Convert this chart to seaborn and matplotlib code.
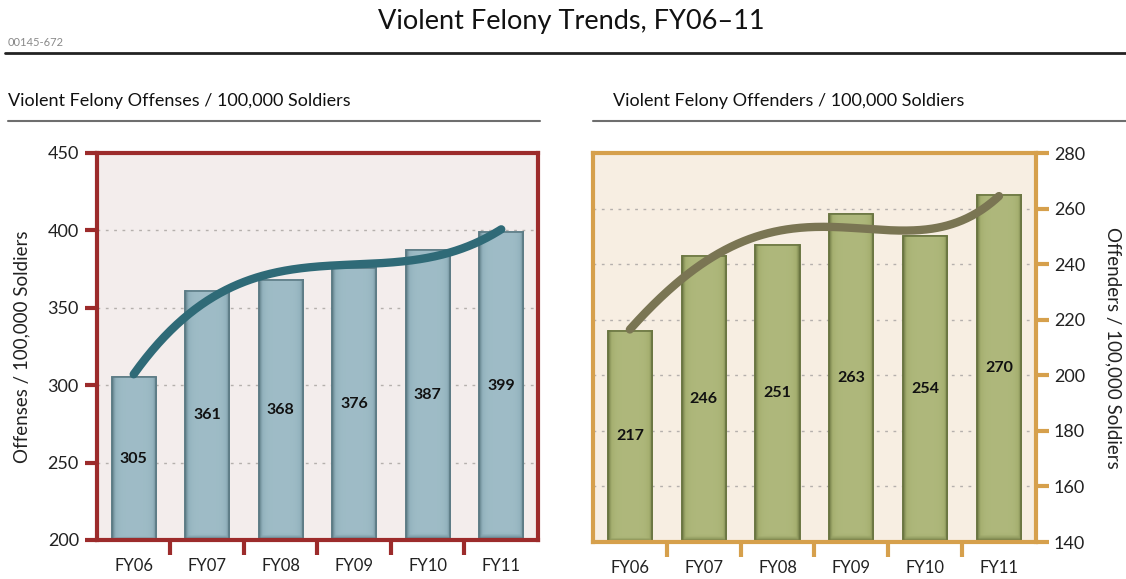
import numpy as np
import matplotlib
matplotlib.use("Agg")
import matplotlib.pyplot as plt
import seaborn as sns
from matplotlib.lines import Line2D
from matplotlib.colors import LinearSegmentedColormap

# ---------------- data ----------------
years = ["FY06", "FY07", "FY08", "FY09", "FY10", "FY11"]
offenses = [305, 361, 368, 376, 387, 399]
offense_labels = ["305", "361", "368", "376", "387", "399"]
# bar heights as drawn in the reference (right panel)
offenders = [216, 243, 247, 258, 250, 265]
offender_labels = ["217", "246", "251", "263", "254", "270"]

left_yticks = [200, 250, 300, 350, 400, 450]
right_yticks = [140, 160, 180, 200, 220, 240, 260, 280]

sns.set_theme(style="white")
plt.rcParams['font.family'] = ['Lato', 'DejaVu Sans']

fig = plt.figure(figsize=(11.26, 5.79), dpi=100)
fig.patch.set_facecolor("white")
ax1 = fig.add_axes([0.0861, 0.0674, 0.3917, 0.6684])
ax2 = fig.add_axes([0.5266, 0.0639, 0.3934, 0.6718])


def panel(ax, values, labels, yticks, bar_color, edge_color, light_color, frame,
          bg, curve_color, order, right=False, ylabel=""):
    ymin, ymax = yticks[0], yticks[-1]
    ax.set_facecolor(bg)
    sns.barplot(x=years, y=values, ax=ax, color=bar_color, width=0.6,
                saturation=1, edgecolor=edge_color, linewidth=1.2, zorder=3)
    cmap = LinearSegmentedColormap.from_list("g", [edge_color, bar_color, light_color])
    tx = np.linspace(0, 1, 80)
    prof = 1 - np.abs(2 * tx - 1) ** 5
    for p in list(ax.patches):
        x0, w, h = p.get_x(), p.get_width(), p.get_height()
        ty = np.linspace(0, 1, 120)[:, None]
        top = np.clip((1 - ty) / 0.02, 0, 1)
        grad = np.minimum(prof[None, :], top) * 0.85
        ax.imshow(grad, extent=[x0, x0 + w, ymin, h], aspect="auto", cmap=cmap,
                  vmin=0, vmax=1, zorder=3.1, origin="upper", interpolation="bilinear")
        ax.add_patch(plt.Rectangle((x0, ymin), w, h - ymin, fill=False,
                                   edgecolor=edge_color, lw=1.2, zorder=3.2))
    xi = np.arange(len(values))
    coef = np.polyfit(xi, values, order)
    xs = np.linspace(0, len(values) - 1, 300)
    ax.plot(xs, np.polyval(coef, xs), color=curve_color, lw=6,
            solid_capstyle="round", zorder=4)
    for i, (v, lab) in enumerate(zip(values, labels)):
        ax.text(i, ymin + (v - ymin) / 2, lab, ha="center", va="center",
                fontsize=11.5, fontweight="bold", color="#111111", zorder=5)
    ax.set_xlim(-0.5, len(values) - 0.5)
    ax.set_ylim(ymin, ymax)
    ax.set_yticks(yticks)
    for yt in yticks[1:-1]:
        ax.axhline(yt, color="#b5b0ad", lw=1, ls=(0, (2, 4)), zorder=1)
    for s in ax.spines.values():
        s.set_visible(True)
        s.set_color(frame)
        s.set_linewidth(3)
        s.set_zorder(6)
    ax.set_xlabel("")
    ax.set_xticks(xi)
    ax.set_xticklabels(years)
    ax.set_xticks(np.arange(0.5, len(values) - 1, 1), minor=True)
    ax.tick_params(axis="x", which="major", bottom=True, length=0, labelsize=12,
                   pad=13, colors="#222222")
    ax.tick_params(axis="x", which="minor", bottom=True, direction="out",
                   length=11, width=3, color=frame)
    if right:
        ax.yaxis.tick_right()
        ax.yaxis.set_label_position("right")
        ax.set_ylabel(ylabel, rotation=270, fontsize=13.5, labelpad=26, color="#222222")
        ax.tick_params(axis="y", which="major", right=True, left=False)
    else:
        ax.set_ylabel(ylabel, fontsize=13.5, labelpad=12, color="#222222")
        ax.tick_params(axis="y", which="major", left=True)
    ax.tick_params(axis="y", which="major", direction="out", length=9, width=3,
                   color=frame, labelsize=13, pad=4, labelcolor="#222222")


panel(ax1, offenses, offense_labels, left_yticks, "#93b2bd", "#5d7c86", "#a3c0ca",
      "#9c2b2b", "#f3edec", "#2f6a77", 3, right=False,
      ylabel="Offenses / 100,000 Soldiers")
panel(ax2, offenders, offender_labels, right_yticks, "#a5af70", "#6b7642", "#b2bb80",
      "#d6a04c", "#f7eee2", "#7a7553", 4, right=True,
      ylabel="Offenders / 100,000 Soldiers")

# ---------------- header texts ----------------
fig.text(0.507, 1 - 22 / 579, "Violent Felony Trends, FY06\u201311", ha="center",
         va="center", fontsize=19.5, color="#111111")
fig.text(8 / 1126, 1 - 42 / 579, "00145-672", ha="left", va="center",
         fontsize=8, color="#8a8a8a")
fig.add_artist(Line2D([5 / 1126, 1.0], [1 - 53 / 579] * 2, color="#222222", lw=2))
fig.text(8 / 1126, 1 - 101 / 579, "Violent Felony Offenses / 100,000 Soldiers",
         ha="left", va="center", fontsize=13, color="#111111")
fig.text(613 / 1126, 1 - 101 / 579, "Violent Felony Offenders / 100,000 Soldiers",
         ha="left", va="center", fontsize=13, color="#111111")
fig.add_artist(Line2D([8 / 1126, 540 / 1126], [1 - 121 / 579] * 2, color="#6e6e6e", lw=1.5))
fig.add_artist(Line2D([593 / 1126, 1.0], [1 - 121 / 579] * 2, color="#6e6e6e", lw=1.5))

fig.savefig("out.png", dpi=100, facecolor="white")
